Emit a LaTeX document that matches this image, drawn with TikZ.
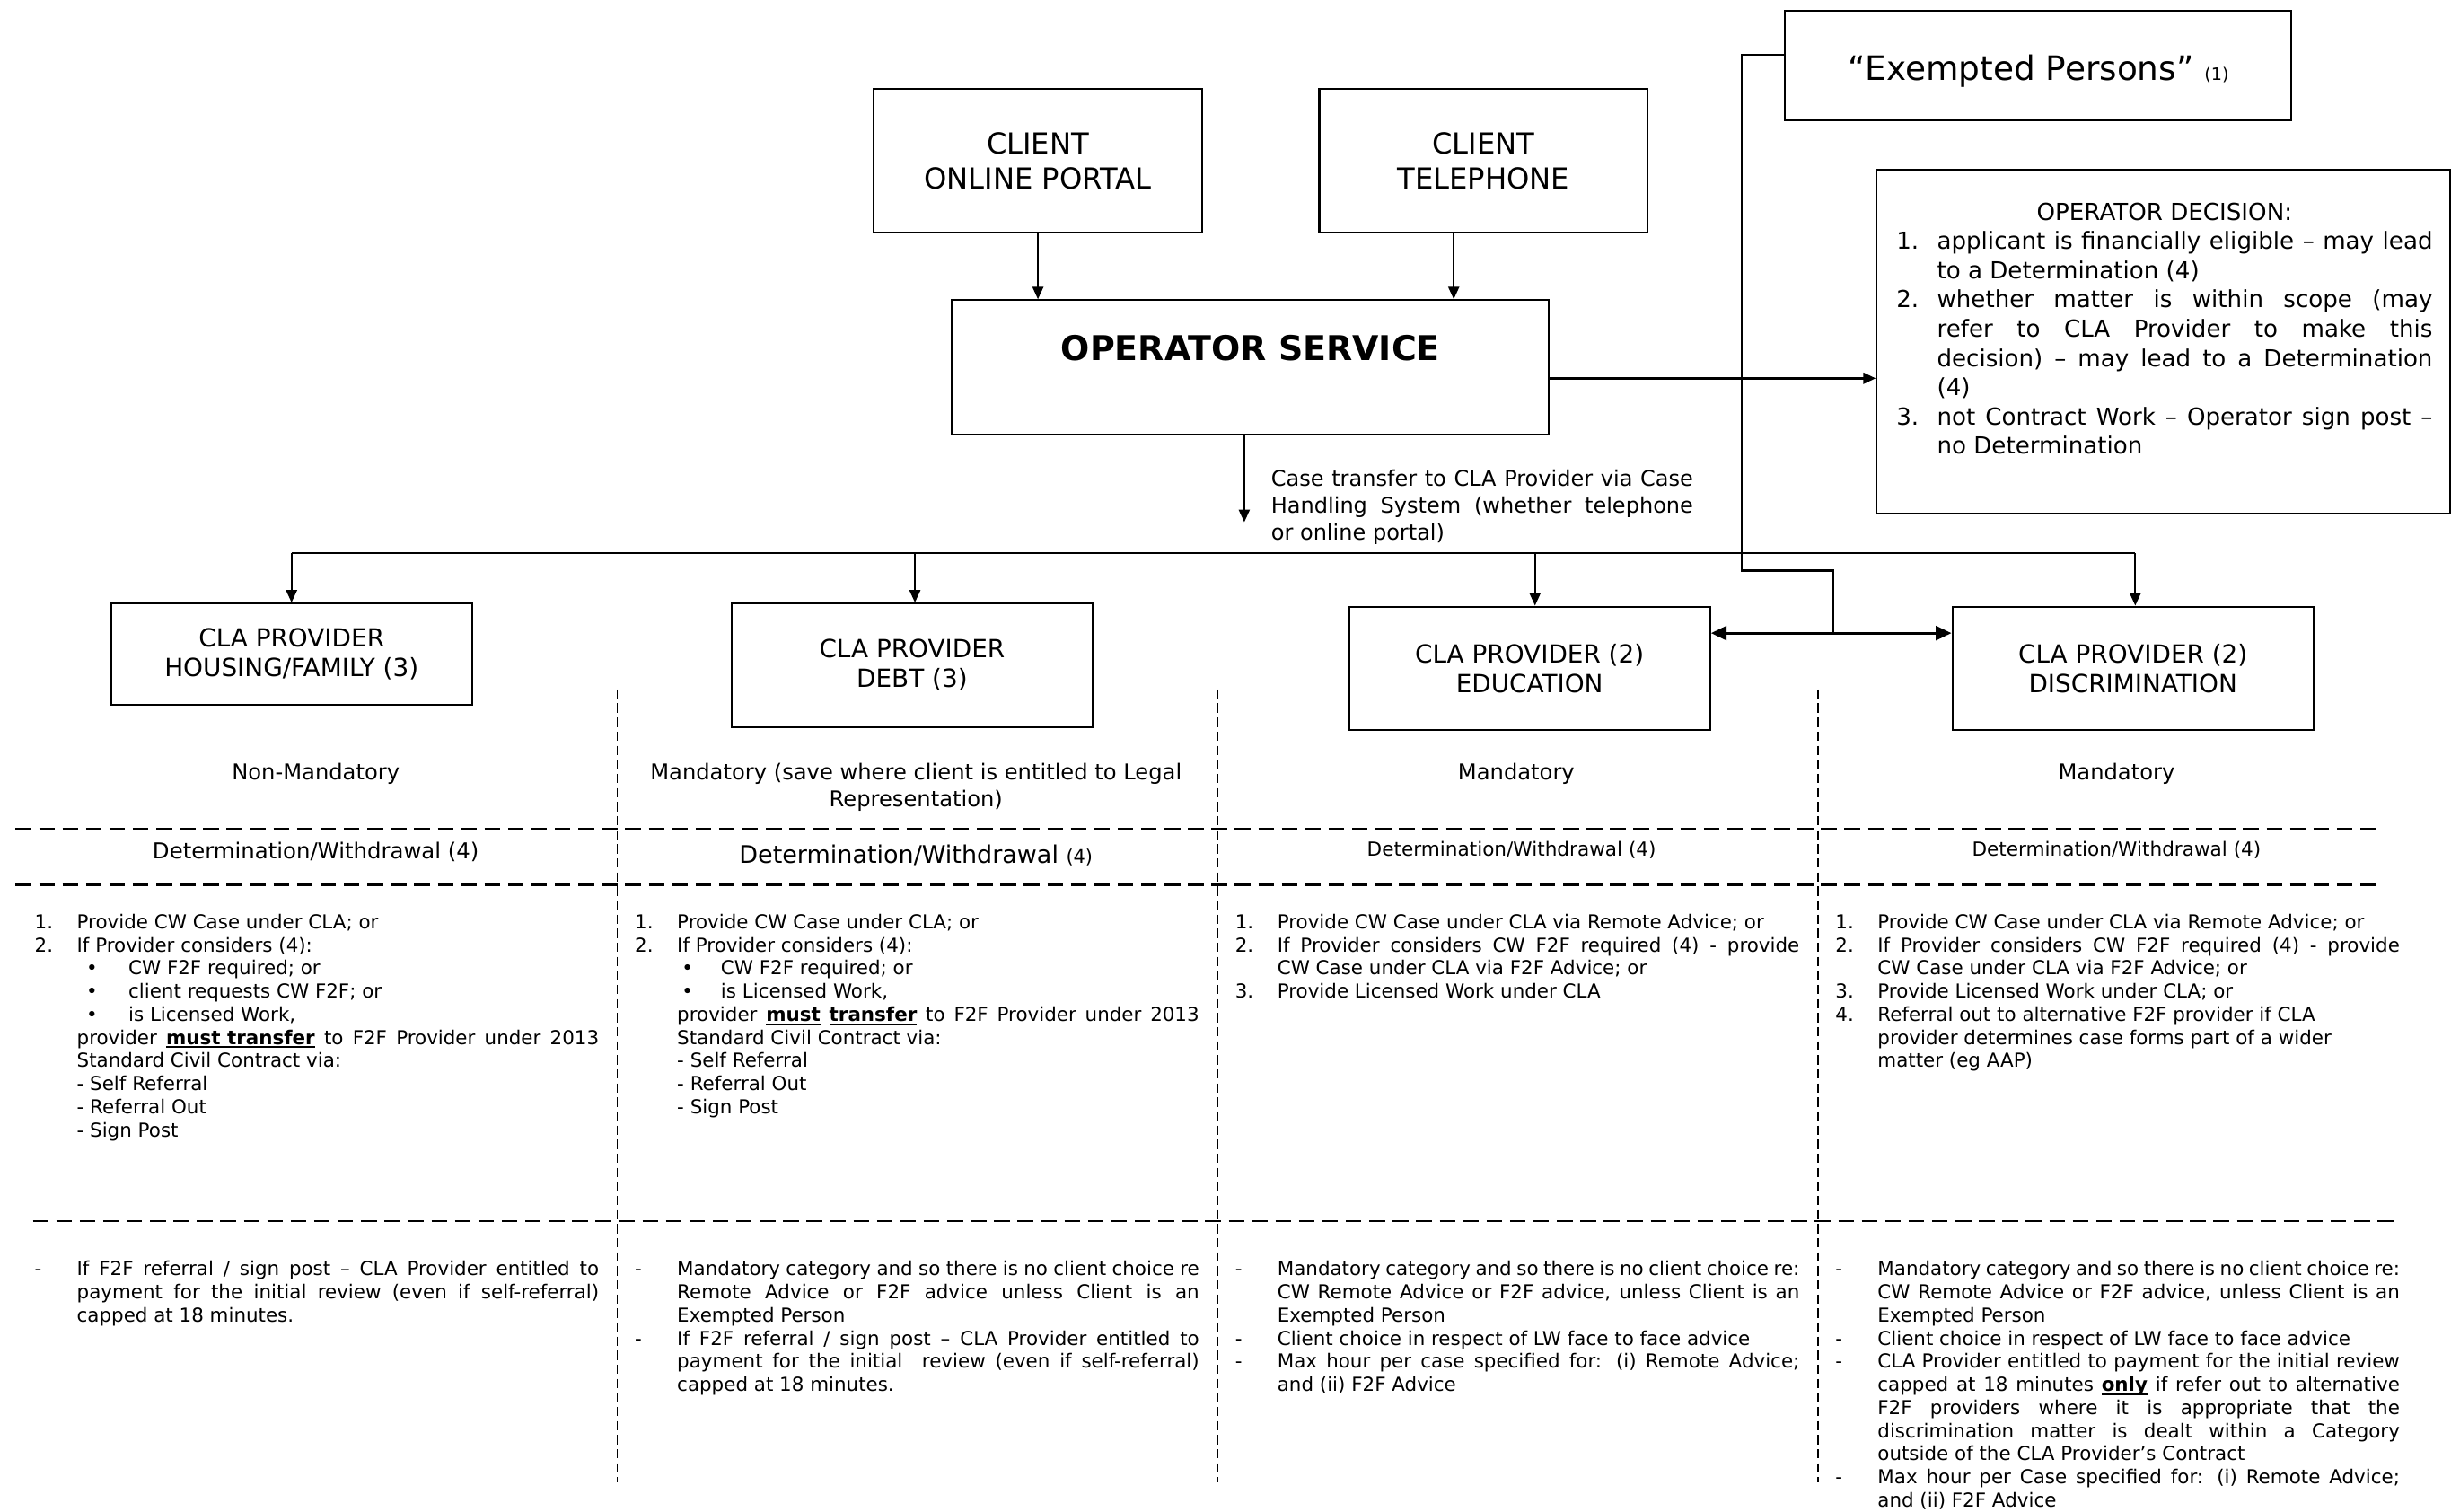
\documentclass[tikz,border=0pt]{standalone}
\usepackage{fontspec}
\setmainfont{DejaVu Sans}
\usetikzlibrary{arrows.meta}
\newlength\jw \setlength\jw{334pt}
\newcommand\J[1]{\hbox to \jw{#1}}
\newcommand\nb[1]{\makebox[27pt][l]{#1}}
\newcommand\ind{\hspace*{27pt}}
\newsavebox\ubox
\newcommand\bu[1]{\sbox\ubox{\textbf{#1}}\rlap{\rule[-2.4pt]{\wd\ubox}{1.1pt}}\usebox{\ubox}}
\begin{document}
\begin{tikzpicture}[x=1pt,y=-1pt,
  box/.style={draw, line width=1.2pt, inner sep=0pt, align=center},
  arr/.style={-{Triangle[length=8pt,width=7pt]}, line width=1.1pt},
  darr/.style={{Triangle[length=10pt,width=9pt]}-{Triangle[length=10pt,width=9pt]}, line width=1.8pt},
  hsep/.style={line width=1.2pt, dash pattern=on 10pt off 5pt},
  vsep/.style={line width=0.8pt, dash pattern=on 6pt off 3pt},
  fbig/.style={font=\fontsize{18.5}{22}\selectfont},
  fprov/.style={font=\fontsize{16}{19}\selectfont},
  fmid/.style={font=\fontsize{13.9}{17}\selectfont},
  fdec/.style={font=\fontsize{15}{18.7}\selectfont},
  fct/.style={font=\fontsize{13.8}{17}\selectfont},
  fsm/.style={font=\fontsize{12.3}{14.8}\selectfont},
  list/.style={fsm, inner sep=0pt, anchor=north west, align=left}
]
\useasboundingbox (0,0) rectangle (1568,967);

% top boxes
\node[box, fbig, minimum width=210pt, minimum height=92pt] (portal) at (664,103) {CLIENT\\ONLINE PORTAL};
\node[box, fbig, minimum width=210pt, minimum height=92pt] (phone) at (949,103) {CLIENT\\TELEPHONE};
\node[box, minimum width=324pt, minimum height=70pt, text height=21.5pt, text depth=2.5pt,
  font=\fontsize{21.5}{25}\selectfont] (exempt) at (1304,42)
  {“Exempted Persons” {\fontsize{11}{12}\selectfont (1)}};
\node[box, minimum width=382pt, minimum height=86pt, font=\fontsize{21.8}{25}\selectfont\bfseries] (opsvc) at (800,235)
  {OPERATOR SERVICE\\\mbox{}};
\node[box, minimum width=367pt, minimum height=220pt, anchor=north west] (dec) at (1200,108) {};
\node[fdec, inner sep=0pt, anchor=north west, align=left] (dectext) at (1213,129.5) {%
\makebox[343pt][c]{OPERATOR DECISION:}\\
\makebox[26pt][l]{1.}\hbox to 317pt{applicant is financially eligible – may lead}\\
\hspace*{26pt}to a Determination (4)\\
\makebox[26pt][l]{2.}\hbox to 317pt{whether matter is within scope (may}\\
\hspace*{26pt}\hbox to 317pt{refer to CLA Provider to make this}\\
\hspace*{26pt}\hbox to 317pt{decision) – may lead to a Determination}\\
\hspace*{26pt}(4)\\
\makebox[26pt][l]{3.}\hbox to 317pt{not Contract Work – Operator sign post –}\\
\hspace*{26pt}no Determination};

\draw[arr] (portal.south) -- (portal.south |- opsvc.north);
\draw[arr] ([xshift=-19pt]phone.south) -- ([xshift=-19pt]phone.south |- opsvc.north);
\draw[arr, line width=1.6pt] (opsvc.east |- 0,242) -- (dec.west |- 0,242);

% case transfer
\coordinate (ct) at (796,334);
\draw[arr] (opsvc.south -| ct) -- (ct);
\node[fct, inner sep=0pt, anchor=north west, align=left] (cttext) at (813,300.5) {%
\hbox to 270pt{Case transfer to CLA Provider via Case}\\
\hbox to 270pt{Handling System (whether telephone}\\
or online portal)};

% provider boxes
\node[box, fprov, minimum width=231pt, minimum height=65pt] (hf) at (186.5,418.5) {CLA PROVIDER\\HOUSING/FAMILY (3)};
\node[box, fprov, minimum width=231pt, minimum height=79pt] (debt) at (583.5,425.5) {CLA PROVIDER\\DEBT (3)};
\node[box, fprov, minimum width=231pt, minimum height=79pt] (edu) at (978.5,427.5) {CLA PROVIDER (2)\\EDUCATION};
\node[box, fprov, minimum width=231pt, minimum height=79pt] (dis) at (1364.5,427.5) {CLA PROVIDER (2)\\DISCRIMINATION};

\coordinate (bus) at (0,354);
\draw[line width=1.2pt] (hf.north |- bus) -- ([xshift=1.5pt]dis.north |- bus);
\draw[arr] (hf.north |- bus) -- (hf.north);
\draw[arr] ([xshift=1.8pt]debt.north |- bus) -- ([xshift=1.8pt]debt.north);
\draw[arr] ([xshift=3.5pt]edu.north |- bus) -- ([xshift=3.5pt]edu.north);
\draw[arr] ([xshift=1.5pt]dis.north |- bus) -- ([xshift=1.5pt]dis.north);

% exempted link
\coordinate (ej) at (1173,405);
\draw[line width=1.2pt] ([yshift=7pt]exempt.west) -| (1114,365) -| (ej);
\draw[darr] (edu.east |- ej) -- (dis.west |- ej);

% grid
\draw[vsep] (395,441) -- (395,948);
\draw[vsep] (779,441) -- (779,948);
\draw[vsep] (1163,441) -- (1163,948);
\draw[hsep] (10,530) -- (1523,530);
\draw[hsep] (10,566) -- (1523,566);
\draw[hsep] (21,781) -- (1534,781);

% row 1
\node[fmid] (m1) at (202,495) {Non-Mandatory};
\node[fmid, align=center] (m2) at (586,503.5) {Mandatory (save where client is entitled to Legal\\Representation)};
\node[fmid] (m3) at (970,495) {Mandatory};
\node[fmid] (m4) at (1354,495) {Mandatory};

% row 2
\node[font=\fontsize{14}{17}\selectfont] (d1) at (202,545) {Determination/Withdrawal (4)};
\node[font=\fontsize{15.5}{18}\selectfont] (d2) at (586,547) {Determination/Withdrawal {\fontsize{12}{13}\selectfont (4)}};
\node[font=\fontsize{12.4}{14}\selectfont] (d3) at (967,544) {Determination/Withdrawal (4)};
\node[font=\fontsize{12.4}{14}\selectfont] (d4) at (1354,544) {Determination/Withdrawal (4)};

% row 3
\node[list] (l1) at (22,584.5) {%
\nb{1.}Provide CW Case under CLA; or\\
\nb{2.}If Provider considers (4):\\
\hspace*{33pt}\makebox[27pt][l]{•}CW F2F required; or\\
\hspace*{33pt}\makebox[27pt][l]{•}client requests CW F2F; or\\
\hspace*{33pt}\makebox[27pt][l]{•}is Licensed Work,\\
\ind\J{provider \bu{must transfer} to F2F Provider under 2013}\\
\ind Standard Civil Contract via:\\
\ind - Self Referral\\
\ind - Referral Out\\
\ind - Sign Post};
\node[list] (l2) at (406,584.5) {%
\nb{1.}Provide CW Case under CLA; or\\
\nb{2.}If Provider considers (4):\\
\hspace*{30pt}\makebox[25pt][l]{•}CW F2F required; or\\
\hspace*{30pt}\makebox[25pt][l]{•}is Licensed Work,\\
\ind\J{provider \bu{must} \bu{transfer} to F2F Provider under 2013}\\
\ind Standard Civil Contract via:\\
\ind - Self Referral\\
\ind - Referral Out\\
\ind - Sign Post};
\node[list] (l3) at (790,584.5) {%
\nb{1.}Provide CW Case under CLA via Remote Advice; or\\
\nb{2.}\J{If Provider considers CW F2F required (4) - provide}\\
\ind CW Case under CLA via F2F Advice; or\\
\nb{3.}Provide Licensed Work under CLA};
\node[list] (l4) at (1174,584.5) {%
\nb{1.}Provide CW Case under CLA via Remote Advice; or\\
\nb{2.}\J{If Provider considers CW F2F required (4) - provide}\\
\ind CW Case under CLA via F2F Advice; or\\
\nb{3.}Provide Licensed Work under CLA; or\\
\nb{4.}Referral out to alternative F2F provider if CLA\\
\ind provider determines case forms part of a wider\\
\ind matter (eg AAP)};

% row 4
\node[list] (b1) at (22,806.5) {%
\nb{-}\J{If F2F referral / sign post – CLA Provider entitled to}\\
\ind\J{payment for the initial review (even if self-referral)}\\
\ind capped at 18 minutes.};
\node[list] (b2) at (406,806.5) {%
\nb{-}\J{Mandatory category and so there is no client choice re}\\
\ind\J{Remote Advice or F2F advice unless Client is an}\\
\ind Exempted Person\\
\nb{-}\J{If F2F referral / sign post – CLA Provider entitled to}\\
\ind\J{payment for the initial\ \ review (even if self-referral)}\\
\ind capped at 18 minutes.};
\node[list] (b3) at (790,806.5) {%
\nb{-}\J{Mandatory category and so there is no client choice re:}\\
\ind\J{CW Remote Advice or F2F advice, unless Client is an}\\
\ind Exempted Person\\
\nb{-}Client choice in respect of LW face to face advice\\
\nb{-}\J{Max hour per case specified for: (i) Remote Advice;}\\
\ind and (ii) F2F Advice};
\node[list] (b4) at (1174,806.5) {%
\nb{-}\J{Mandatory category and so there is no client choice re:}\\
\ind\J{CW Remote Advice or F2F advice, unless Client is an}\\
\ind Exempted Person\\
\nb{-}Client choice in respect of LW face to face advice\\
\nb{-}\J{CLA Provider entitled to payment for the initial review}\\
\ind\J{capped at 18 minutes \bu{only} if refer out to alternative}\\
\ind\J{F2F providers where it is appropriate that the}\\
\ind\J{discrimination matter is dealt within a Category}\\
\ind outside of the CLA Provider’s Contract\\
\nb{-}\J{Max hour per Case specified for: (i) Remote Advice;}\\
\ind and (ii) F2F Advice};
\end{tikzpicture}
\end{document}
